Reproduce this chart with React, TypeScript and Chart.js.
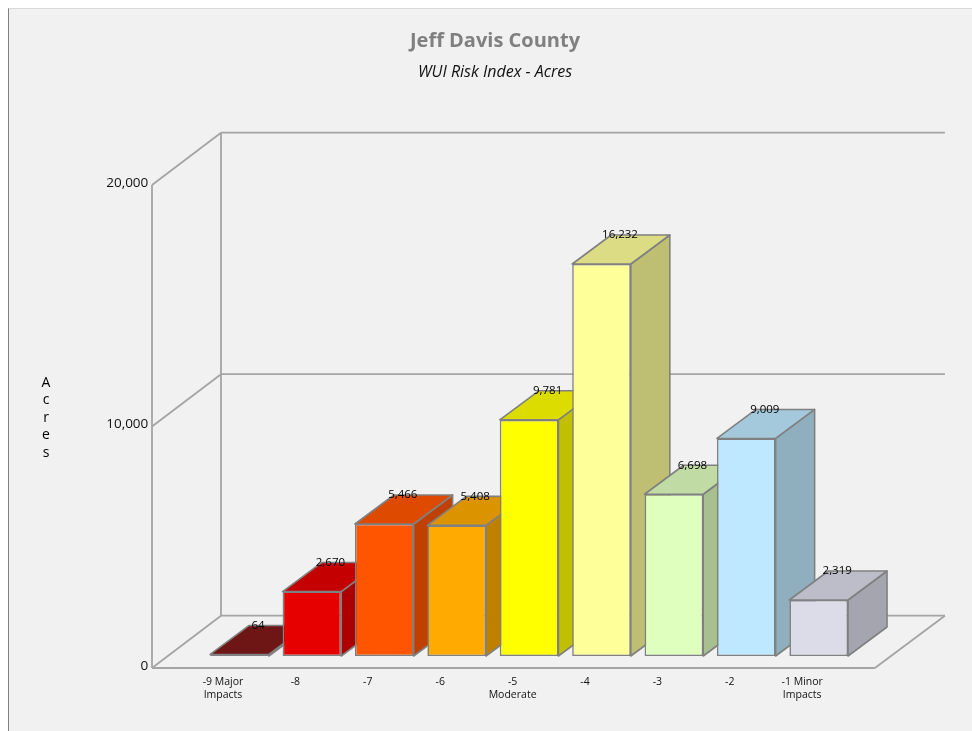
import React, { useEffect, useRef } from "react";
import { Chart, registerables } from "chart.js";

Chart.register(...registerables);

const categories: (string | string[])[] = [
  ["-9 Major", "Impacts"], "-8", "-7", "-6", ["-5", "Moderate"], "-4", "-3", "-2", ["-1 Minor", "Impacts"],
];
const acres = [64, 2670, 5466, 5408, 9781, 16232, 6698, 9009, 2319];
const frontColors = ["#6e1616", "#e60000", "#ff5500", "#ffaa00", "#ffff00", "#ffff99", "#dfffbe", "#bee8ff", "#dcdce9"];
const topColors = ["#6e1616", "#c40000", "#dd4a00", "#dc9300", "#dcdc00", "#dcdc84", "#c0dca4", "#a4c8dc", "#bdbdc9"];
const sideColors = ["#5f1212", "#ad0000", "#c04000", "#bf8000", "#c0c000", "#bfbf73", "#a8bf8f", "#8fafbf", "#a5a5af"];
const axisTitleLetters = ["A", "c", "r", "e", "s"];
const gridValues = [0, 10000, 20000];

const FONT = '"Open Sans", "Noto Sans", sans-serif';
const LINE = "#a4a4a4";
const EDGE = "#808080";
const number = new Intl.NumberFormat("en-US");

const threeD = {
  id: "threeD",
  beforeDatasetsDraw(chart: any) {
    const { ctx, chartArea: area, scales } = chart;
    const y = scales.y;
    const frontL = area.left - 51.3;
    const frontR = area.right + 20;
    const front = (v: number) => y.getPixelForValue(v) + 12;
    const back = (v: number) => y.getPixelForValue(v) - 40.3;
    const backL = frontL + 69;
    const backR = frontR + 70;

    ctx.save();
    ctx.strokeStyle = LINE;
    ctx.lineWidth = 1.8;
    const seg = (a: number, b: number, c: number, d: number) => {
      ctx.beginPath();
      ctx.moveTo(a, b);
      ctx.lineTo(c, d);
      ctx.stroke();
    };
    seg(frontL, front(0), frontL, front(20000));
    seg(backL, back(0), backL, back(20000));
    for (const v of gridValues) {
      seg(frontL, front(v), backL, back(v));
      seg(backL, back(v), backR, back(v));
    }
    seg(frontL, front(0), frontR, front(0));
    seg(frontR, front(0), backR, back(0));

    const meta = chart.getDatasetMeta(0);
    const dx = 39;
    const dy = 29;
    ctx.strokeStyle = EDGE;
    ctx.lineWidth = 1.6;
    ctx.lineJoin = "round";
    meta.data.forEach((el: any, i: number) => {
      const l = el.x - el.width / 2;
      const r = el.x + el.width / 2;
      const t = el.y;
      const b = el.base;
      const poly = (pts: number[][], color: string) => {
        ctx.beginPath();
        pts.forEach((p, k) => (k ? ctx.lineTo(p[0], p[1]) : ctx.moveTo(p[0], p[1])));
        ctx.closePath();
        ctx.fillStyle = color;
        ctx.fill();
        ctx.stroke();
      };
      poly([[r, t], [r + dx, t - dy], [r + dx, b - dy], [r, b]], sideColors[i]);
      poly([[l, t], [r, t], [r + dx, t - dy], [l + dx, t - dy]], topColors[i]);
    });
    ctx.restore();
  },
  afterDatasetsDraw(chart: any) {
    const { ctx } = chart;
    const meta = chart.getDatasetMeta(0);
    ctx.save();
    ctx.fillStyle = "#000000";
    ctx.font = `11.5px ${FONT}`;
    ctx.textAlign = "center";
    ctx.textBaseline = "middle";
    meta.data.forEach((el: any, i: number) => {
      ctx.fillText(number.format(acres[i]), el.x + 18.5, el.y - 29);
    });
    ctx.font = `14px ${FONT}`;
    axisTitleLetters.forEach((ch, i) => {
      ctx.fillText(ch, 46, 383 + i * 17.5);
    });
    ctx.restore();
  },
};

export default function App() {
  const ref = useRef<HTMLCanvasElement>(null);
  useEffect(() => {
    const chart = new Chart(ref.current as HTMLCanvasElement, {
      type: "bar",
      data: {
        labels: categories as any,
        datasets: [
          {
            data: acres,
            backgroundColor: frontColors,
            borderColor: EDGE,
            borderWidth: 1.6,
            borderSkipped: false,
            barPercentage: 0.81,
            categoryPercentage: 1,
          },
        ],
      },
      options: {
        responsive: false,
        animation: false,
        layout: { padding: { left: 18, right: 0, top: 0, bottom: 0 } },
        plugins: {
          legend: { display: false },
          tooltip: { enabled: false },
          title: {
            display: true,
            text: "Jeff Davis County",
            color: "#808080",
            font: { family: FONT, size: 20, weight: "bold", lineHeight: 1.2 },
            padding: { top: 29, bottom: 9.4 },
          },
          subtitle: {
            display: true,
            text: "WUI Risk Index - Acres",
            color: "#111111",
            font: { family: FONT, size: 16, style: "italic", lineHeight: 1.2 },
            padding: { top: 0, bottom: 91.4 },
          },
        },
        scales: {
          x: {
            grid: { display: false, drawTicks: false },
            border: { display: false },
            afterFit: (s: any) => { s.height = 75; },
            ticks: {
              autoSkip: false,
              maxRotation: 0,
              minRotation: 0,
              padding: 20,
              labelOffset: -16.5,
              color: "#111111",
              font: { family: FONT, size: 10.5, lineHeight: 1.2 },
            },
          },
          y: {
            min: 0,
            max: 20000,
            grid: { display: false, drawTicks: false },
            border: { display: false },
            afterFit: (s: any) => { s.width = 185.3; },
            ticks: {
              stepSize: 10000,
              padding: 55,
              labelOffset: 10,
              color: "#111111",
              font: { family: FONT, size: 13.5 },
              callback: (v: any) => number.format(Number(v)),
            },
          },
          rightMargin: {
            type: "linear",
            position: "right",
            min: 0,
            max: 20000,
            grid: { display: false, drawTicks: false },
            border: { display: false },
            ticks: { display: false },
            afterFit: (s: any) => { s.width = 117.1; },
          },
        },
      },
      plugins: [threeD],
    } as any);
    return () => chart.destroy();
  }, []);

  return (
    <div style={{ position: "absolute", left: 0, top: 0, width: 972, height: 731, background: "#ffffff", overflow: "hidden" }}>
      <div
        style={{
          position: "absolute",
          left: 8,
          top: 8,
          width: 964,
          height: 723,
          boxSizing: "border-box",
          background: "#f1f1f1",
          borderLeft: "1.5px solid #808080",
          borderTop: "1px solid #d8d8d8",
        }}
      />
      <canvas ref={ref} width={972} height={731} style={{ position: "absolute", left: 0, top: 0, display: "block" }} />
    </div>
  );
}
